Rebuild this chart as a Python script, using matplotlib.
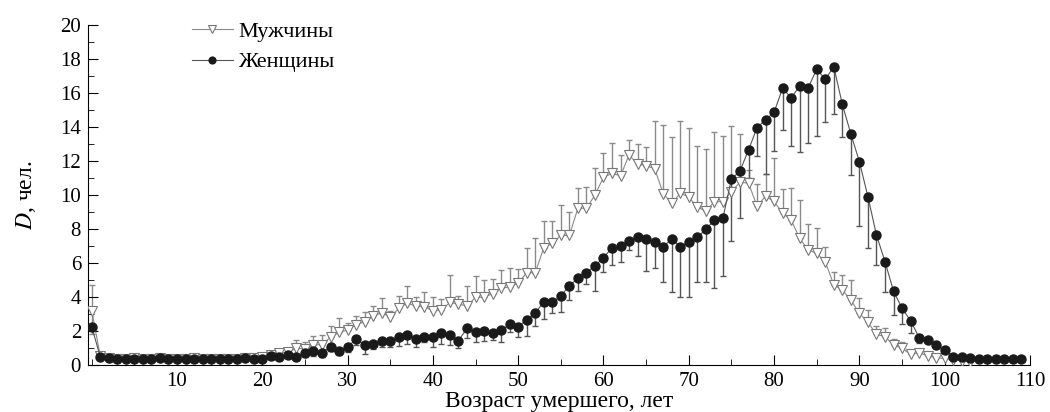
import numpy as np
import matplotlib
matplotlib.use('Agg')
import matplotlib.pyplot as plt
from matplotlib.ticker import MultipleLocator

plt.rcParams['font.family'] = ['Liberation Serif', 'DejaVu Serif']
plt.rcParams['mathtext.fontset'] = 'stix'

# возраст, лет
age_m = np.arange(0, 104)
age_f = np.arange(0, 110)

# мужчины: среднее и верхняя граница разброса
men = [3.2, 0.55, 0.4, 0.38, 0.38, 0.4, 0.36, 0.38, 0.4, 0.38,
       0.38, 0.38, 0.4, 0.38, 0.38, 0.36, 0.38, 0.38, 0.4, 0.4,
       0.5, 0.6, 0.7, 0.75, 0.98, 0.95, 1.18, 1.2, 1.63, 1.92,
       2.06, 2.38, 2.55, 2.86, 3.08, 2.8, 3.33, 3.65, 3.45, 3.43,
       3.2, 3.24, 3.68, 3.59, 3.47, 3.98, 3.98, 4.2, 4.51, 4.6,
       4.82, 5.43, 5.43, 6.9, 7.16, 7.62, 7.62, 9.22, 9.22, 10.0,
       11.04, 11.27, 11.13, 12.35, 11.82, 11.72, 11.55, 10.08, 9.51, 10.1,
       9.88, 9.29, 9.05, 9.61, 9.61, 10.2, 10.75, 10.7, 9.35, 9.92,
       9.62, 8.92, 8.53, 7.45, 6.76, 6.57, 6.08, 4.71, 4.41, 3.82,
       3.04, 2.51, 1.8, 1.67, 1.18, 0.98, 0.63, 0.73, 0.53, 0.43,
       0.39, 0.3, 0.25, 0.2]
men_hi = [4.7, 0.7, 0.5, 0.5, 0.5, 0.5, 0.48, 0.5, 0.52, 0.5,
          0.5, 0.5, 0.52, 0.5, 0.5, 0.48, 0.5, 0.5, 0.52, 0.52,
          0.6, 0.75, 0.85, 0.85, 1.5, 1.37, 1.7, 1.76, 2.3, 2.75,
          2.5, 2.88, 3.14, 3.47, 3.92, 3.2, 4.06, 4.65, 4.0, 4.31,
          4.0, 3.86, 5.29, 4.06, 4.65, 5.23, 5.0, 5.04, 5.59, 5.7,
          5.65, 6.86, 7.45, 8.49, 8.49, 9.41, 9.02, 10.4, 10.49, 11.6,
          12.45, 13.04, 12.35, 13.25, 13.02, 12.8, 14.33, 14.11, 13.44, 14.36,
          13.92, 12.88, 12.7, 13.68, 13.45, 14.06, 13.6, 11.5, 10.65, 11.24,
          12.16, 10.35, 10.43, 9.71, 8.31, 8.08, 6.92, 5.49, 5.29, 5.0,
          3.96, 3.24, 2.29, 2.16, 1.51, 1.37, 0.78, 0.9, 0.6, 0.5,
          0.45, 0.35, 0.3, 0.25]
men_lo = [1.8] + men[1:]

# женщины: среднее и нижняя граница разброса
women = [2.25, 0.5, 0.4, 0.38, 0.37, 0.38, 0.35, 0.36, 0.41, 0.35,
         0.36, 0.36, 0.38, 0.38, 0.38, 0.35, 0.36, 0.37, 0.39, 0.38,
         0.38, 0.53, 0.45, 0.6, 0.45, 0.72, 0.8, 0.73, 1.08, 0.82,
         1.08, 1.51, 1.18, 1.24, 1.43, 1.43, 1.63, 1.76, 1.53, 1.67,
         1.63, 1.86, 1.76, 1.43, 2.16, 1.96, 2.02, 1.9, 2.03, 2.39,
         2.25, 2.67, 3.06, 3.71, 3.69, 4.06, 4.67, 5.1, 5.43, 5.84,
         6.31, 6.9, 7.0, 7.31, 7.55, 7.39, 7.25, 6.96, 7.41, 6.96,
         7.25, 7.51, 7.98, 8.53, 8.65, 10.94, 11.41, 12.65, 13.96, 14.43,
         14.86, 16.29, 15.71, 16.41, 16.31, 17.41, 16.8, 17.55, 15.33, 13.59,
         11.96, 9.9, 7.65, 6.08, 4.35, 3.33, 2.61, 1.61, 1.47, 1.18,
         0.88, 0.49, 0.49, 0.43, 0.33, 0.33, 0.33, 0.34, 0.33, 0.33]
women_lo = [2.25, 0.4, 0.3, 0.28, 0.27, 0.28, 0.25, 0.26, 0.3, 0.25,
            0.26, 0.26, 0.28, 0.28, 0.28, 0.25, 0.26, 0.27, 0.29, 0.28,
            0.28, 0.4, 0.35, 0.45, 0.3, 0.5, 0.55, 0.5, 0.8, 0.59,
            0.78, 1.2, 0.65, 0.95, 1.08, 1.08, 1.1, 1.24, 1.08, 1.37,
            1.04, 1.24, 1.18, 0.98, 1.57, 1.37, 1.43, 1.47, 1.37, 1.93,
            1.62, 1.71, 2.28, 2.69, 3.04, 3.14, 3.8, 4.37, 4.77, 4.37,
            5.49, 5.88, 6.08, 6.76, 6.41, 5.55, 5.69, 4.9, 4.31, 4.02,
            4.02, 4.86, 4.9, 4.51, 5.22, 7.28, 8.63, 10.98, 12.27, 11.24,
            12.6, 13.82, 12.9, 12.51, 13.04, 13.47, 14.27, 14.76, 13.39, 11.18,
            8.2, 6.9, 5.88, 4.31, 2.94, 2.41, 1.9, 1.29, 1.3, 1.05,
            0.8, 0.45, 0.45, 0.4, 0.3, 0.3, 0.3, 0.3, 0.3, 0.3]

men = np.array(men)
women = np.array(women)
m_err = [men - np.array(men_lo), np.array(men_hi) - men]
f_err = [women - np.array(women_lo), np.zeros_like(women)]

fig = plt.figure(figsize=(10.5, 4.12), dpi=100)
ax = fig.add_axes([88/1050, 47/412, 942/1050, 340/412])

ax.errorbar(age_m, men, yerr=m_err, fmt='none', ecolor='#8a8a8a',
            elinewidth=1.0, capsize=2.5, capthick=1.0, zorder=1)
ax.errorbar(age_f, women, yerr=f_err, fmt='none', ecolor='#555555',
            elinewidth=1.0, capsize=2.5, capthick=1.0, zorder=1)

ax.plot(age_m, men, '-', color='#8a8a8a', lw=0.8, marker='v', ms=7,
        mfc='white', mec='#777777', mew=0.8, label='Мужчины', zorder=3)
ax.plot(age_f, women, '-', color='#555555', lw=0.8, marker='o', ms=6.5,
        mfc='#1a1a1a', mec='#1a1a1a', label='Женщины', zorder=4)

ax.set_xlim(-0.43, 110)
ax.set_ylim(0, 20)
ax.xaxis.set_major_locator(MultipleLocator(10))
ax.xaxis.set_minor_locator(MultipleLocator(5))
ax.yaxis.set_major_locator(MultipleLocator(2))
ax.yaxis.set_minor_locator(MultipleLocator(1))
ax.set_xticks(np.arange(10, 111, 10))
ax.tick_params(which='both', direction='in', labelsize=15, top=False, right=False)
ax.tick_params(which='major', length=7, pad=5)
ax.tick_params(which='minor', length=4)
for s in ['top', 'right']:
    ax.spines[s].set_visible(False)

ax.set_xlabel('Возраст умершего, лет', fontsize=17, va='baseline')
ax.xaxis.set_label_coords(0.5, -0.125)
ax.set_ylabel('$D$, чел.', fontsize=17, labelpad=16)

ax.legend(loc='upper left', bbox_to_anchor=(0.089, 1.07), frameon=False,
          fontsize=16, handlelength=1.85, handletextpad=0.25, labelspacing=0.45,
          markerscale=0.75)

fig.savefig('out.png', dpi=100)
